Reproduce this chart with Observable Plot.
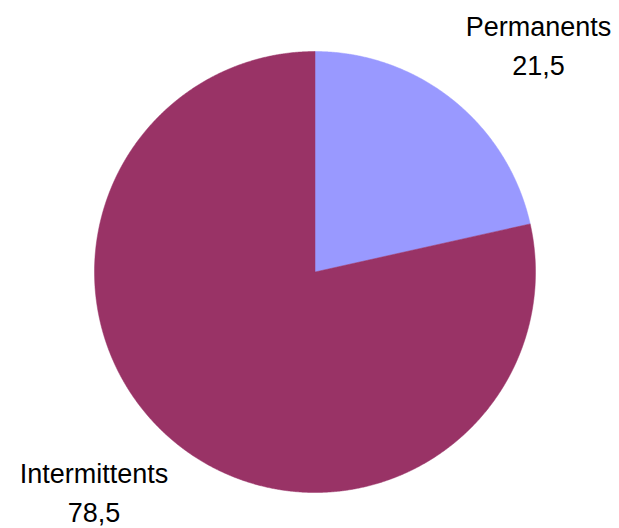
<!DOCTYPE html>
<html>
<head>
<meta charset="utf-8">
<script src="https://cdn.jsdelivr.net/npm/d3@7"></script>
<script src="https://cdn.jsdelivr.net/npm/@observablehq/plot@0.6"></script>
<style>
  html, body { margin: 0; padding: 0; background: #fff; }
  #chart svg { display: block; }
</style>
</head>
<body>
<div id="chart"></div>
<script>
const categories = ["Permanents", "Intermittents"];
const values = [21.5, 78.5];
const colors = ["#9999FF", "#993366"];

// Build slice outlines (unit circle, angle clockwise from 12 o'clock)
const pie = d3.pie().sort(null).value(d => d.value);
const arcs = pie(categories.map((c, i) => ({label: c, value: values[i], color: colors[i]})));

function slicePoints(a) {
  const pts = [{x: 0, y: 0}];
  const n = Math.max(2, Math.ceil((a.endAngle - a.startAngle) / (Math.PI / 720)));
  for (let k = 0; k <= n; k++) {
    const t = a.startAngle + (a.endAngle - a.startAngle) * k / n;
    pts.push({x: Math.sin(t), y: Math.cos(t)});
  }
  pts.push({x: 0, y: 0});
  return pts;
}

const fmt = v => String(v).replace(".", ",");

const marks = arcs.map(a =>
  Plot.line(slicePoints(a), {x: "x", y: "y", fill: a.data.color, stroke: a.data.color, strokeWidth: 0.5, curve: "linear"})
);

// Labels
marks.push(Plot.text([`${categories[0]}\n${fmt(values[0])}`], {
  frameAnchor: "top-right", textAnchor: "middle", lineAnchor: "top",
  dx: -81, dy: 8, lineHeight: 1.444, fontSize: 27, fill: "#000"
}));
marks.push(Plot.text([`${categories[1]}\n${fmt(values[1])}`], {
  frameAnchor: "bottom-left", textAnchor: "middle", lineAnchor: "bottom",
  dx: 93.5, dy: -7, lineHeight: 1.41, fontSize: 27, fill: "#000"
}));

const chart = Plot.plot({
  width: 619,
  height: 528,
  margin: 0,
  style: {fontFamily: "'Liberation Sans', Arial, sans-serif", background: "#fff"},
  x: {domain: [-1, 1], range: [94, 535], axis: null},
  y: {domain: [-1, 1], range: [492, 51], axis: null},
  marks
});
document.getElementById("chart").appendChild(chart);
</script>
</body>
</html>
